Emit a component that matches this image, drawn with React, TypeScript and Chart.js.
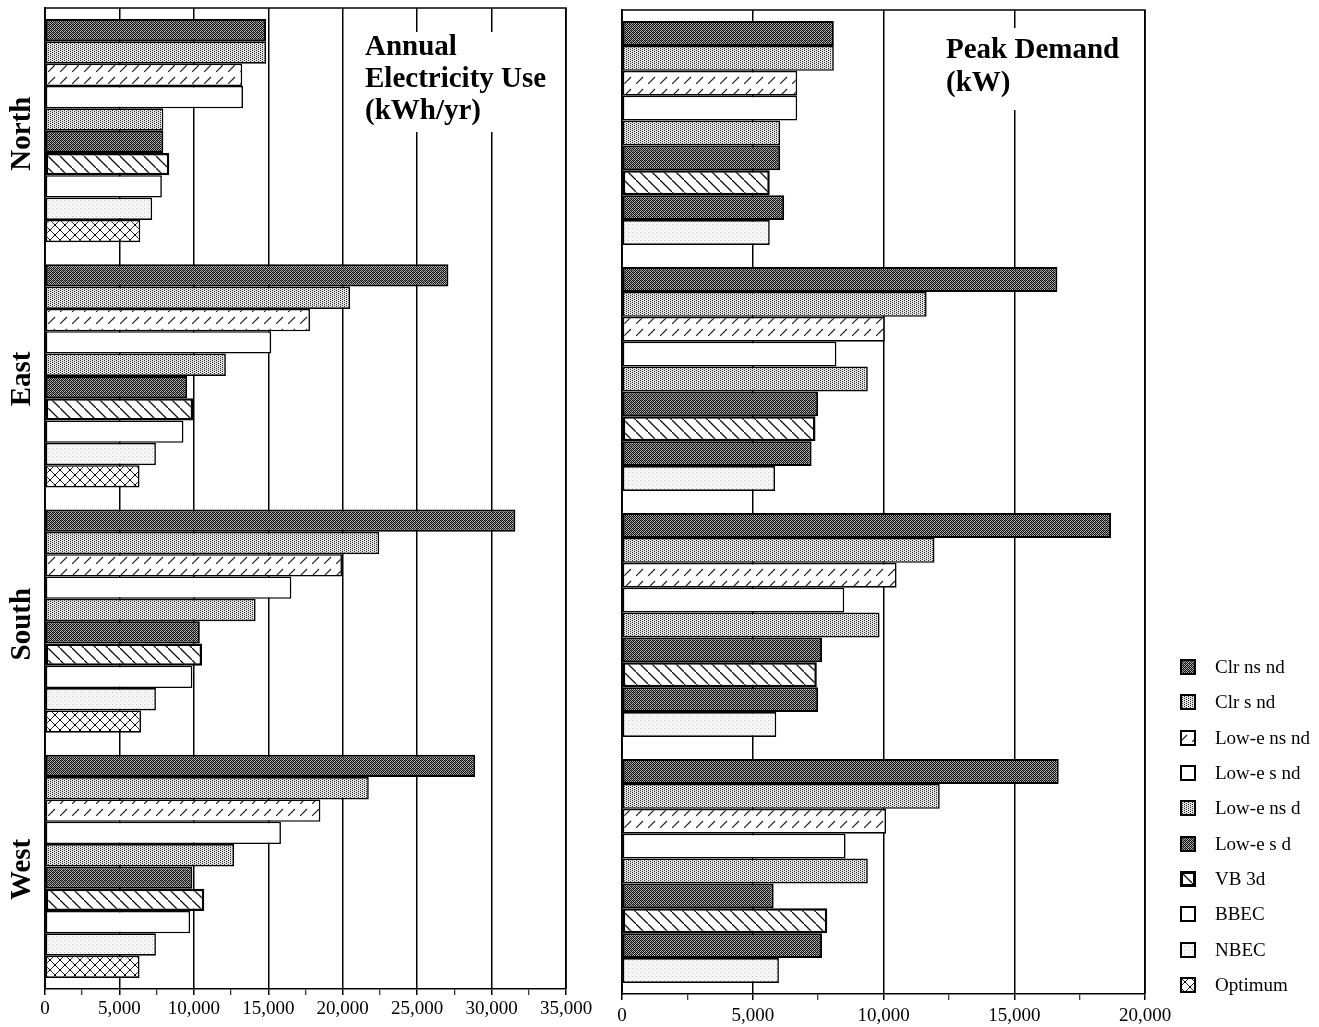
import React, { useEffect, useRef } from 'react';
import { Chart, registerables } from 'chart.js';

Chart.register(...registerables);

// ---------------- data ----------------
const regions = ['North', 'East', 'South', 'West'];

const seriesNames = [
  'Clr ns nd',
  'Clr s nd',
  'Low-e ns nd',
  'Low-e s nd',
  'Low-e ns d',
  'Low-e s d',
  'VB 3d',
  'BBEC',
  'NBEC',
  'Optimum',
];

// Annual Electricity Use (kWh/yr)
const annualClrNsNd = [14850, 27100, 31600, 28900];
const annualClrSNd = [14850, 20500, 22450, 21750];
const annualLowENsNd = [13250, 17800, 19950, 18500];
const annualLowESNd = [13300, 15200, 16550, 15850];
const annualLowENsD = [7950, 12150, 14150, 12700];
const annualLowESD = [7950, 9550, 10400, 9900];
const annualVB3d = [8350, 9950, 10550, 10700];
const annualBBEC = [7850, 9300, 9900, 9750];
const annualNBEC = [7200, 7450, 7450, 7450];
const annualOptimum = [6400, 6350, 6450, 6350];

// Peak Demand (kW)
const peakClrNsNd = [8100, 16650, 18700, 16700];
const peakClrSNd = [8100, 11650, 11950, 12150];
const peakLowENsNd = [6700, 10050, 10500, 10100];
const peakLowESNd = [6700, 8200, 8500, 8550];
const peakLowENsD = [6050, 9400, 9850, 9400];
const peakLowESD = [6050, 7500, 7650, 5800];
const peakVB3d = [5650, 7400, 7450, 7850];
const peakBBEC = [6200, 7250, 7500, 7650];
const peakNBEC = [5650, 5850, 5900, 6000];

const annualTicksMax = 35000;
const peakTicksMax = 20000;
const majorStep = 5000;
const minorStep = 2500;

const annualTitle = ['Annual', 'Electricity Use', '(kWh/yr)'];
const peakTitle = ['Peak Demand', '(kW)'];

// ---------------- fills ----------------
type Fill = 'dark' | 'light' | 'vlight' | 'white' | 'fwd' | 'back' | 'cross';

const annualFills: Fill[] = ['dark', 'light', 'fwd', 'white', 'light', 'dark', 'back', 'white', 'vlight', 'cross'];
const peakFills: Fill[] = ['dark', 'light', 'fwd', 'white', 'light', 'dark', 'back', 'dark', 'vlight'];
const legendFills: Fill[] = ['dark', 'light', 'fwd', 'white', 'light', 'dark', 'back', 'white', 'vlight', 'cross'];

function makeTile(kind: Fill): HTMLCanvasElement {
  const c = document.createElement('canvas');
  const g = c.getContext('2d')!;
  const px = (x: number, y: number, col: string) => {
    g.fillStyle = col;
    g.fillRect(x, y, 1, 1);
  };
  if (kind === 'dark') {
    c.width = 4;
    c.height = 4;
    g.fillStyle = '#b0b0b0';
    g.fillRect(0, 0, 4, 4);
    for (let y = 0; y < 4; y++)
      for (let x = 0; x < 4; x++) if ((x + y) % 2 === 0) px(x, y, '#141414');
    px(1, 0, '#5a5a5a');
    px(3, 2, '#6a6a6a');
  } else if (kind === 'light') {
    c.width = 4;
    c.height = 4;
    g.fillStyle = '#e2e2e2';
    g.fillRect(0, 0, 4, 4);
    for (let y = 0; y < 4; y++)
      for (let x = 0; x < 4; x++) if ((x + 2 * y) % 4 === 0) px(x, y, '#2a2a2a');
  } else if (kind === 'vlight') {
    c.width = 4;
    c.height = 4;
    g.fillStyle = '#f7f7f7';
    g.fillRect(0, 0, 4, 4);
    px(0, 0, '#c4c4c4');
    px(2, 2, '#dadada');
  } else if (kind === 'white') {
    c.width = 2;
    c.height = 2;
    g.fillStyle = '#ffffff';
    g.fillRect(0, 0, 2, 2);
  } else if (kind === 'fwd') {
    c.width = 12;
    c.height = 12;
    g.fillStyle = '#ffffff';
    g.fillRect(0, 0, 12, 12);
    g.strokeStyle = '#1a1a1a';
    g.lineWidth = 1.1;
    g.beginPath();
    g.moveTo(0, 12);
    g.lineTo(7, 5);
    g.stroke();
  } else if (kind === 'back') {
    c.width = 12;
    c.height = 12;
    g.fillStyle = '#ffffff';
    g.fillRect(0, 0, 12, 12);
    g.strokeStyle = '#111111';
    g.lineWidth = 1.3;
    g.beginPath();
    g.moveTo(-1, -1);
    g.lineTo(13, 13);
    g.stroke();
  } else {
    c.width = 10;
    c.height = 10;
    g.fillStyle = '#ffffff';
    g.fillRect(0, 0, 10, 10);
    g.strokeStyle = '#222222';
    g.lineWidth = 1;
    g.beginPath();
    g.moveTo(-1, -1);
    g.lineTo(11, 11);
    g.moveTo(-1, 11);
    g.lineTo(11, -1);
    g.stroke();
    g.fillStyle = '#000';
    g.fillRect(4, 4, 2, 2);
    g.fillRect(0, 0, 1, 1);
    g.fillRect(9, 9, 1, 1);
    g.fillRect(0, 9, 1, 1);
    g.fillRect(9, 0, 1, 1);
  }
  return c;
}

function borderFor(kind: Fill): number {
  if (kind === 'back') return 2.5;
  if (kind === 'dark') return 2;
  return 1.6;
}

const SERIF = '"Liberation Serif", "Times New Roman", serif';

// ---------------- plugins ----------------
function titlePlugin(id: string, rect: [number, number, number, number], lines: string[], x: number, y0: number, lh: number) {
  return {
    id,
    beforeDatasetsDraw(chart: any) {
      const c = chart.ctx as CanvasRenderingContext2D;
      c.save();
      c.fillStyle = '#ffffff';
      c.fillRect(rect[0], rect[1], rect[2], rect[3]);
      c.fillStyle = '#000';
      c.font = `bold 29px ${SERIF}`;
      c.textAlign = 'left';
      c.textBaseline = 'middle';
      lines.forEach((t, i) => c.fillText(t, x, y0 + i * lh));
      c.restore();
    },
  };
}

const framePlugin = {
  id: 'frame',
  afterDatasetsDraw(chart: any) {
    const { left, right, top, bottom } = chart.chartArea;
    const c = chart.ctx as CanvasRenderingContext2D;
    c.save();
    c.strokeStyle = '#000';
    c.lineWidth = 1.5;
    c.beginPath();
    c.moveTo(left, top);
    c.lineTo(right, top);
    c.lineTo(right, bottom);
    c.moveTo(left, top);
    c.lineTo(left, bottom);
    c.stroke();
    c.restore();
  },
};

const categoryLabelPlugin = {
  id: 'catLabels',
  afterDraw(chart: any) {
    const c = chart.ctx as CanvasRenderingContext2D;
    const ys = chart.scales.y;
    c.save();
    c.fillStyle = '#000';
    c.font = `bold 29px ${SERIF}`;
    c.textAlign = 'center';
    c.textBaseline = 'middle';
    (chart.data.labels as string[]).forEach((lab, i) => {
      const y = ys.getPixelForValue(i) + 3;
      c.save();
      c.translate(23, y);
      c.rotate(-Math.PI / 2);
      c.fillText(lab, 0, 0);
      c.restore();
    });
    c.restore();
  },
};

function makeOptions(max: number, pad: { top: number; right: number }, yWidth: number, xHeight: number, labelPad: number) {
  return {
    indexAxis: 'y' as const,
    animation: false as const,
    responsive: false,
    devicePixelRatio: 1,
    layout: { padding: { top: pad.top, right: pad.right, left: 0, bottom: 0 } },
    plugins: { legend: { display: false }, tooltip: { enabled: false }, title: { display: false } },
    datasets: { bar: { categoryPercentage: 0.91, barPercentage: 1 } },
    scales: {
      x: {
        type: 'linear' as const,
        min: 0,
        max,
        afterFit: (s: any) => {
          s.height = xHeight;
        },
        ticks: {
          stepSize: minorStep,
          autoSkip: false,
          maxRotation: 0,
          minRotation: 0,
          padding: labelPad,
          color: '#000',
          font: { family: SERIF, size: 19 },
          callback: (v: any) => (Number(v) % majorStep === 0 ? Number(v).toLocaleString('en-US') : ''),
        },
        grid: {
          color: (ctx: any) => (ctx.tick && ctx.tick.value % majorStep === 0 ? '#000' : 'rgba(0,0,0,0)'),
          lineWidth: 1.5,
          tickColor: '#000',
          tickLength: 6,
          tickWidth: (ctx: any) => (ctx.tick && ctx.tick.value % majorStep === 0 ? 1.5 : 1),
        },
        border: { display: true, color: '#000', width: 1.5 },
      },
      y: {
        afterFit: (s: any) => {
          s.width = yWidth;
        },
        ticks: { display: false },
        grid: { display: false },
        border: { display: true, color: '#000', width: 1.5 },
      },
    },
  };
}

// ---------------- components ----------------
function Swatch({ fill }: { fill: Fill }) {
  const ref = useRef<HTMLCanvasElement>(null);
  useEffect(() => {
    const c = ref.current;
    if (!c) return;
    const g = c.getContext('2d')!;
    g.clearRect(0, 0, 16, 16);
    const pat = g.createPattern(makeTile(fill), 'repeat');
    g.fillStyle = pat || '#fff';
    g.fillRect(0, 0, 16, 16);
    const lw = fill === 'back' ? 3 : 2;
    g.strokeStyle = '#000';
    g.lineWidth = lw;
    g.strokeRect(lw / 2, lw / 2, 16 - lw, 16 - lw);
  }, [fill]);
  return <canvas ref={ref} width={16} height={16} style={{ display: 'block' }} />;
}

export default function App() {
  const leftRef = useRef<HTMLCanvasElement>(null);
  const rightRef = useRef<HTMLCanvasElement>(null);

  useEffect(() => {
    const lc = leftRef.current;
    const rc = rightRef.current;
    if (!lc || !rc) return;
    const lctx = lc.getContext('2d')!;
    const rctx = rc.getContext('2d')!;

    const annualSeries = [
      annualClrNsNd,
      annualClrSNd,
      annualLowENsNd,
      annualLowESNd,
      annualLowENsD,
      annualLowESD,
      annualVB3d,
      annualBBEC,
      annualNBEC,
      annualOptimum,
    ];
    const peakSeries = [
      peakClrNsNd,
      peakClrSNd,
      peakLowENsNd,
      peakLowESNd,
      peakLowENsD,
      peakLowESD,
      peakVB3d,
      peakBBEC,
      peakNBEC,
    ];

    const left = new Chart(lc, {
      type: 'bar',
      data: {
        labels: regions,
        datasets: annualSeries.map((d, i) => ({
          label: seriesNames[i],
          data: d,
          backgroundColor: lctx.createPattern(makeTile(annualFills[i]), 'repeat') as any,
          borderColor: '#000',
          borderWidth: borderFor(annualFills[i]),
          borderSkipped: false as const,
        })),
      },
      options: makeOptions(annualTicksMax, { top: 8, right: 34 }, 45, 1027 - 989, 3) as any,
      plugins: [
        titlePlugin('annualTitle', [355, 32, 206, 100], annualTitle, 365, 48, 32),
        framePlugin,
        categoryLabelPlugin,
      ],
    });

    const right = new Chart(rc, {
      type: 'bar',
      data: {
        labels: regions,
        datasets: peakSeries.map((d, i) => ({
          label: seriesNames[i],
          data: d,
          backgroundColor: rctx.createPattern(makeTile(peakFills[i]), 'repeat') as any,
          borderColor: '#000',
          borderWidth: borderFor(peakFills[i]),
          borderSkipped: false as const,
        })),
      },
      options: makeOptions(peakTicksMax, { top: 10, right: 55 }, 22, 1027 - 994, 5) as any,
      plugins: [titlePlugin('peakTitle', [336, 28, 205, 82], peakTitle, 346, 51, 33), framePlugin],
    });

    return () => {
      left.destroy();
      right.destroy();
    };
  }, []);

  return (
    <div
      style={{
        position: 'absolute',
        left: 0,
        top: 0,
        width: 1319,
        height: 1027,
        background: '#fff',
        overflow: 'hidden',
      }}
    >
      <canvas ref={leftRef} width={600} height={1027} style={{ position: 'absolute', left: 0, top: 0 }} />
      <canvas ref={rightRef} width={600} height={1027} style={{ position: 'absolute', left: 600, top: 0 }} />
      {seriesNames.map((name, i) => (
        <div
          key={name}
          style={{
            position: 'absolute',
            left: 1180,
            top: 667 + i * 35.33 - 11,
            height: 22,
            display: 'flex',
            alignItems: 'center',
            whiteSpace: 'nowrap',
          }}
        >
          <Swatch fill={legendFills[i]} />
          <span
            style={{
              marginLeft: 19,
              fontFamily: SERIF,
              fontSize: 19,
              lineHeight: '22px',
              color: '#000',
            }}
          >
            {name}
          </span>
        </div>
      ))}
    </div>
  );
}
